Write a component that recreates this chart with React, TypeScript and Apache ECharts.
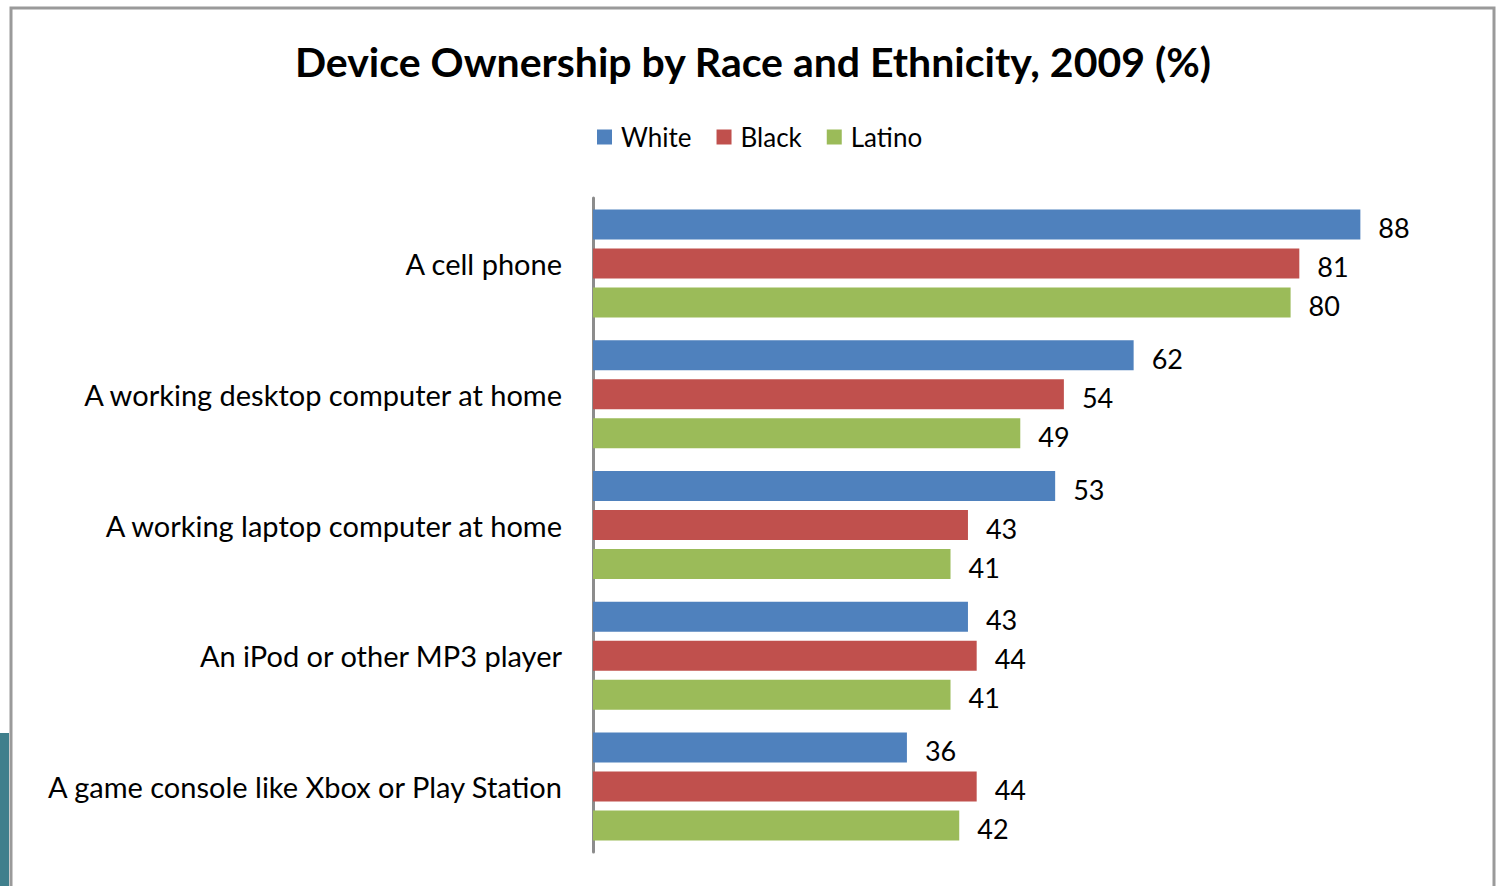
import React, { useEffect, useRef } from "react";
import * as echarts from "echarts";

const categories = [
  "A cell phone",
  "A working desktop computer at home",
  "A working laptop computer at home",
  "An iPod or other MP3 player",
  "A game console like Xbox or Play Station",
];
const white = [88, 62, 53, 43, 36];
const black = [81, 54, 43, 44, 44];
const latino = [80, 49, 41, 41, 42];
const seriesNames = ["White", "Black", "Latino"];
const colors = ["#4F81BD", "#C0504D", "#9BBB59"];

const FONT = "Lato";

export default function App() {
  const ref = useRef<HTMLDivElement>(null);
  useEffect(() => {
    const chart = echarts.init(ref.current!, null, { renderer: "svg" });
    const data = [white, black, latino];
    chart.setOption({
      animation: false,
      backgroundColor: "#ffffff",
      title: {
        text: "Device Ownership by Race and Ethnicity, 2009 (%)",
        left: 748,
        textAlign: "center",
        top: 36,
        textStyle: { fontFamily: FONT, fontSize: 41, fontWeight: "bold", color: "#000" },
      },
      legend: {
        top: 119,
        left: 592,
        itemWidth: 15,
        itemHeight: 15,
        itemGap: 25,
        icon: "rect",
        textStyle: { fontFamily: FONT, fontSize: 26, color: "#000", padding: [0, 0, 0, 4] },
        data: seriesNames,
      },
      graphic: [
        {
          type: "polyline",
          shape: { points: [[11, 886], [11, 8], [1494, 8], [1494, 886]] },
          style: { stroke: "#9a9a9a", lineWidth: 3, fill: "none" },
          silent: true,
        },
        {
          type: "rect",
          shape: { x: 0, y: 733, width: 9, height: 153 },
          style: { fill: "#3f7f8c" },
          silent: true,
        },
      ],
      grid: { left: 593, width: 872, top: 198, height: 654 },
      xAxis: {
        type: "value",
        min: 0,
        max: 100,
        show: false,
        splitLine: { show: false },
      },
      yAxis: {
        type: "category",
        inverse: true,
        data: categories,
        axisLine: { show: true, lineStyle: { color: "#8c8c8c", width: 3 } },
        axisTick: { show: false },
        axisLabel: {
          fontFamily: FONT,
          fontSize: 29,
          color: "#000",
          margin: 31,
          padding: [6, 0, 0, 0],
        },
      },
      series: seriesNames.map((name, i) => ({
        name,
        type: "bar",
        data: data[i],
        barWidth: 30,
        barGap: "30%",
        itemStyle: { color: colors[i] },
        label: {
          show: true,
          position: "right",
          distance: 18,
          offset: [0, 3],
          fontFamily: FONT,
          fontSize: 27,
          color: "#000",
        },
      })),
    });
    return () => chart.dispose();
  }, []);
  return (
    <div
      ref={ref}
      style={{ position: "fixed", left: 0, top: 0, width: 1500, height: 886 }}
    />
  );
}
